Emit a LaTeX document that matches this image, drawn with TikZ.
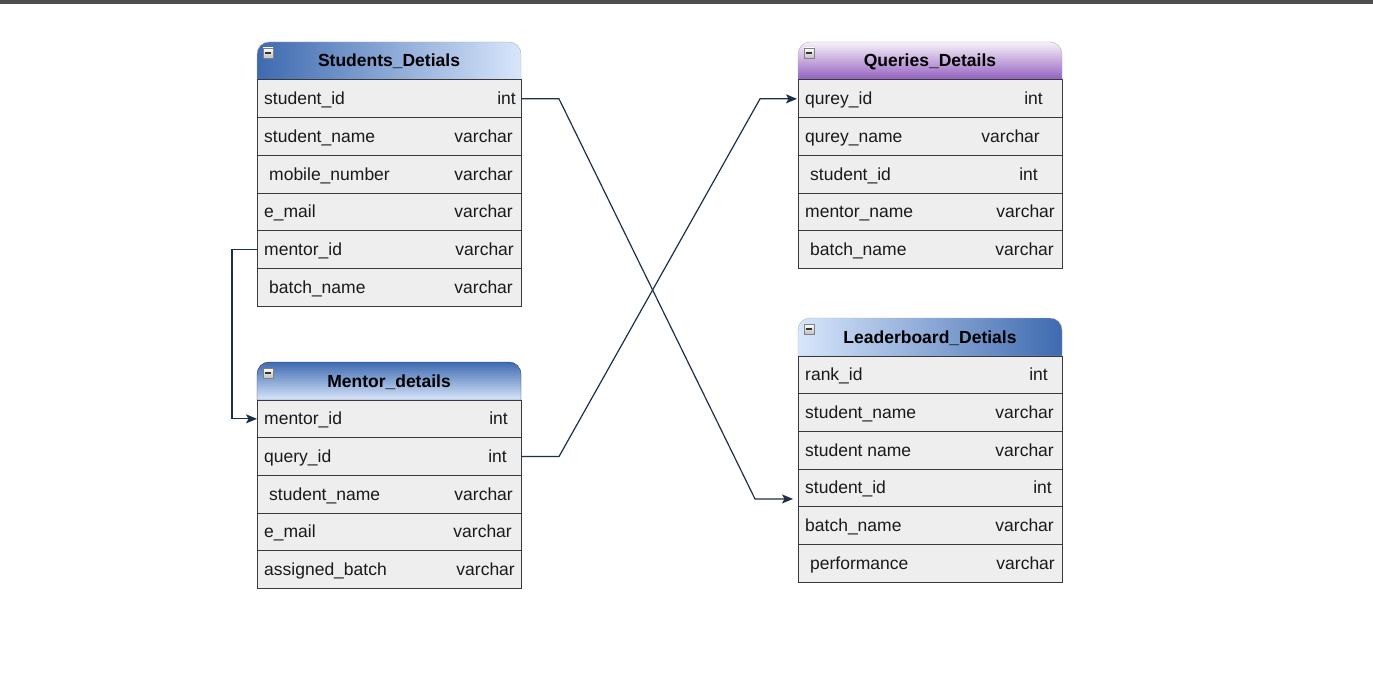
\documentclass[tikz,border=0pt]{standalone}
\usepackage{fontspec}
\setmainfont{Liberation Sans}
\usetikzlibrary{positioning, arrows.meta}
\definecolor{erline}{RGB}{54, 57, 61}
\definecolor{errow}{RGB}{238, 238, 238}
\definecolor{ertext}{RGB}{26, 26, 26}
\definecolor{erdark}{RGB}{62, 106, 176}
\definecolor{erlight}{RGB}{216, 230, 251}
\definecolor{erlilac}{RGB}{246, 241, 250}
\definecolor{erpurple}{RGB}{146, 94, 190}
\definecolor{erlink}{RGB}{30, 48, 70}
\definecolor{topbar}{RGB}{78, 78, 80}
\newcommand{\erfont}{\fontsize{17.5}{20}\selectfont}

% header with rounded top corners: name, x, y, shading, title
\newcommand{\erhead}[5]{%
  \shade[#4] (#2,#3+38) -- (#2,#3+12) arc[start angle=180, end angle=270, radius=12]
    -- (#2+252,#3) arc[start angle=270, end angle=360, radius=12] -- (#2+264,#3+38) -- cycle;
  \node[hdtext] (#1) at (#2+132,#3+25) {#5};
  \node[minusbox] (#1-min) at (#2+11,#3+11) {};
}
% rows: prefix, x, y, list of nr/name/type/right inset/extra indent
\newcommand{\errows}[4]{%
  \foreach \i/\fn/\ft/\tr/\ni in {#4} {
    \node[row] (#1-\i) at (#2, {#3+(\i-1)*37.7}) {};
    \node[fld, anchor=base west] (#1-\i-n) at ([xshift=7pt+\ni pt, yshift=-6pt]#1-\i.west) {\fn};
    \node[fld, anchor=base east] (#1-\i-t) at ([xshift=-\tr pt, yshift=-6pt]#1-\i.east) {\ft};
  }
}

\begin{document}
\begin{tikzpicture}[x=1pt, y=-1pt,
    row/.style={draw=erline, fill=errow, line width=1pt, minimum width=264pt, minimum height=37.7pt,
      anchor=north west, inner sep=0pt, outer sep=0pt},
    fld/.style={inner sep=0pt, font=\erfont, text=ertext},
    hdtext/.style={anchor=base, inner sep=0pt, font=\erfont\bfseries, text=black},
    minusbox/.style={draw=gray, top color=white, bottom color=black!25, minimum size=10pt, inner sep=0pt,
      path picture={\draw[black!80, line width=1.2pt] ([xshift=2pt]path picture bounding box.west)
        -- ([xshift=-2pt]path picture bounding box.east);}},
    link/.style={draw=erlink, line width=1.2pt, -{Stealth[length=11pt, width=9pt, inset=2.5pt]}}]
  \fill[white] (0,0) rectangle (1373,679);
  \useasboundingbox (0,0) rectangle (1373,679);
  \fill[topbar] (0,0) rectangle (1373,4);

  \erhead{st}{257}{42}{left color=erdark, right color=erlight, draw=erline!40}{Students\_Detials}
  \errows{st}{257}{80}{1/student\_id/int/5/0, 2/student\_name/varchar/8/0, 3/mobile\_number/varchar/8/5,
    4/e\_mail/varchar/8/0, 5/mentor\_id/varchar/7/0, 6/batch\_name/varchar/8/5}

  \erhead{me}{257}{362}{top color=erdark, bottom color=erlight, draw=erline}{Mentor\_details}
  \errows{me}{257}{400}{1/mentor\_id/int/13/0, 2/query\_id/int/14/0, 3/student\_name/varchar/8/5,
    4/e\_mail/varchar/9/0, 5/assigned\_batch/varchar/6/0}

  \erhead{qu}{798}{42}{top color=erlilac, bottom color=erpurple, draw=erline!40}{Queries\_Details}
  \errows{qu}{798}{80}{1/qurey\_id/int/19/0, 2/qurey\_name/varchar/22/0, 3/student\_id/int/24/5,
    4/mentor\_name/varchar/7/0, 5/batch\_name/varchar/8/5}

  \erhead{lb}{798}{318}{left color=erlight, right color=erdark, draw=erline!40}{Leaderboard\_Detials}
  \errows{lb}{798}{356}{1/rank\_id/int/14/0, 2/student\_name/varchar/8/0, 3/student name/varchar/8/0,
    4/student\_id/int/10/0, 5/batch\_name/varchar/8/0, 6/performance/varchar/7/5}

  \draw[link] (st-1.east) -- ++(38,0) -- ([xshift=-43pt, yshift=-11pt]lb-4.west)
    -- ([xshift=-5pt, yshift=-11pt]lb-4.west);
  \draw[link] (me-2.east) -- ++(38,0) -- ([xshift=-38pt]qu-1.west) -- ([xshift=-1pt]qu-1.west);
  \draw[link] (st-5.west) -- ++(-25,0) |- (me-1.west);
\end{tikzpicture}
\end{document}
